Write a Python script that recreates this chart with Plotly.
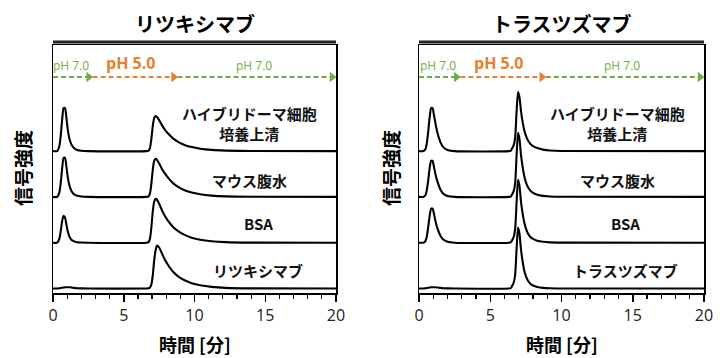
import plotly.graph_objects as go

# ---------------- data ----------------
# Rituximab panel: time grid (min) and signal of the four samples
LT = [0, 0.3, 0.45, 0.55, 0.65, 0.75, 0.85, 0.95, 1.05, 1.15, 1.3, 1.5, 1.7, 2.0, 2.5,
      6.6, 6.75, 6.85, 6.95, 7.05, 7.15, 7.25, 7.35, 7.5, 7.7, 7.9, 8.2, 8.5, 8.9, 9.3,
      9.8, 10.4, 11.2, 12.2, 14, 20]
L_HYB = [0, 0, 5, 16, 32, 43, 43, 33, 21, 13, 6.5, 2.8, 1.2, 0.4, 0,
         0, 0.5, 3, 12, 25, 33, 35, 34, 31, 26, 21.5, 16.5, 12.5, 8.8, 6.2,
         4, 2.4, 1.2, 0.5, 0.1, 0]
L_ASC = [0, 0, 4.5, 14.5, 29, 39, 39, 30, 19, 12, 6, 2.5, 1.1, 0.4, 0,
         0, 0.5, 3.3, 13, 27, 36, 38, 37, 33.5, 28, 23.5, 18, 13.5, 9.5, 6.7,
         4.3, 2.6, 1.3, 0.5, 0.1, 0]
L_BSA = [0, 0, 4, 12, 22, 27, 25, 18, 11, 6.5, 3, 1.3, 0.5, 0.2, 0,
         0, 0.6, 3.8, 15, 31, 41, 44, 43, 39, 32.5, 27, 20.5, 15.5, 11, 7.8,
         5, 3, 1.5, 0.6, 0.1, 0]
L_STD = [0, 0, 0.2, 0.5, 0.8, 1.0, 1.2, 1.3, 1.3, 1.2, 1.0, 0.6, 0.3, 0.1, 0,
         0, 0.2, 1, 4, 13, 28, 38, 43, 41, 35, 29, 22, 16.5, 11.5, 8.2,
         5.3, 3.2, 1.6, 0.6, 0.1, 0]

# Trastuzumab panel
RT = [0, 0.3, 0.45, 0.55, 0.65, 0.75, 0.85, 0.95, 1.05, 1.15, 1.3, 1.5, 1.7, 2.0, 2.5,
      6.3, 6.45, 6.55, 6.65, 6.75, 6.85, 6.95, 7.05, 7.15, 7.25, 7.4, 7.6, 7.8, 8.0,
      8.3, 8.7, 9.2, 10, 20]
R_HYB = [0, 0, 2, 8, 20, 34, 43, 43, 36, 28, 18, 9, 4, 1.2, 0,
         0, 0.5, 3, 6, 14, 40, 59, 54, 41, 31, 20, 12, 7.5, 5, 3, 1.5, 0.6, 0.1, 0]
R_ASC = [0, 0, 1.7, 7, 17, 29, 36, 36, 30, 23, 15, 7.5, 3.3, 1, 0,
         0, 0.5, 3, 6, 14, 42, 64, 58, 43, 32, 20, 11, 6.5, 4, 2.2, 1, 0.4, 0.1, 0]
R_BSA = [0, 0, 1.6, 6.5, 16, 27, 34, 34, 29, 22, 14, 7, 3.2, 1, 0,
         0, 0.5, 3, 6, 14, 41, 63, 57, 42, 31, 19.5, 10.5, 6, 3.8, 2, 0.9, 0.3, 0.1, 0]
R_STD = [0, 0, 0.2, 0.5, 0.8, 1.0, 1.2, 1.3, 1.3, 1.2, 1.0, 0.6, 0.3, 0.1, 0,
         0, 0.5, 3, 6, 14, 40, 61, 55, 40, 29, 17, 9, 5, 3, 1.5, 0.6, 0.2, 0, 0]

SAMPLE_LABELS = ["ハイブリドーマ細胞<br>培養上清", "マウス腹水", "BSA"]
PANEL_TITLES = ["リツキシマブ", "トラスツズマブ"]
PH_TIMES_L = [0, 2.8, 8.8, 20]
PH_TIMES_R = [0, 2.9, 8.9, 20]
PH_LABELS = ["pH 7.0", "pH 5.0", "pH 7.0"]
X_TICKS = [0, 5, 10, 15, 20]
X_TITLE = "時間 [分]"
Y_TITLE = "信号強度"

# ---------------- style ----------------
JP = "Noto Sans CJK JP"
GREEN = "#70AD47"
ORANGE = "#ED7D31"
BASE = 4.5
STEP = 45.8
YMAX = 248
W, H = 722, 358

fig = go.Figure()

panels = [
    ("x", "y", LT, [L_HYB, L_ASC, L_BSA, L_STD], PH_TIMES_L, PANEL_TITLES[0]),
    ("x2", "y2", RT, [R_HYB, R_ASC, R_BSA, R_STD], PH_TIMES_R, PANEL_TITLES[1]),
]


def ann(**kw):
    d = dict(showarrow=False, xanchor="center", yanchor="middle")
    d.update(kw)
    return d


annotations = []
shapes = []
for xa, ya, tgrid, series, phs, title in panels:
    for i, vals in enumerate(series):
        off = BASE + STEP * (3 - i)
        fig.add_trace(go.Scatter(x=tgrid, y=[v + off for v in vals], mode="lines",
                                 line=dict(color="black", width=2.1, shape="spline", smoothing=0.6),
                                 xaxis=xa, yaxis=ya, showlegend=False, hoverinfo="skip"))
    # pH arrows
    ya_arrow = 216
    for k in range(3):
        col = ORANGE if k == 1 else GREEN
        t0, t1 = phs[k], phs[k + 1]
        fig.add_trace(go.Scatter(x=[t0, t1 - 0.3], y=[ya_arrow, ya_arrow], mode="lines",
                                 line=dict(color=col, width=2, dash="5px,3px"),
                                 xaxis=xa, yaxis=ya, showlegend=False, hoverinfo="skip",
                                 cliponaxis=False))
        fig.add_trace(go.Scatter(x=[t1 - 0.28], y=[ya_arrow], mode="markers",
                                 marker=dict(symbol="triangle-right", size=9, color=col),
                                 xaxis=xa, yaxis=ya, showlegend=False, hoverinfo="skip",
                                 cliponaxis=False))
        mid = (t0 + t1) / 2
        if k == 1:
            annotations.append(ann(x=mid - 0.3, y=230, xref=xa, yref=ya,
                                   text="<b>" + PH_LABELS[k] + "</b>",
                                   font=dict(family="Open Sans", size=16, color=ORANGE)))
        else:
            annotations.append(ann(x=mid - (0.1 if k == 0 else 0.2), y=228, xref=xa, yref=ya,
                                   text=PH_LABELS[k],
                                   font=dict(family="Open Sans", size=12, color=GREEN)))
    # sample labels
    labels = SAMPLE_LABELS + [title]
    lab_y = [170, 113, 70, 23]
    lab_x = [13.9, 13.9, 14.5, 14.5]
    for i, lab in enumerate(labels):
        annotations.append(ann(x=lab_x[i], y=lab_y[i], xref=xa, yref=ya, text="<b>" + lab + "</b>",
                               align="center", font=dict(family=JP, size=15, color="#111")))
    # panel title and x title
    annotations.append(ann(x=10, y=1 - 23 / H, xref=xa, yref="paper", text="<b>" + title + "</b>",
                           font=dict(family=JP, size=20, color="black")))
    annotations.append(ann(x=10, y=1 - 344 / H, xref=xa, yref="paper", text="<b>" + X_TITLE + "</b>",
                           font=dict(family=JP, size=18, color="black")))
    shapes.append(dict(type="line", xref=xa, yref="paper", x0=0, x1=20,
                       y0=1 - 42 / H, y1=1 - 42 / H, line=dict(color="#222", width=3)))

for xp in (23, 391):
    annotations.append(ann(x=xp / W, y=1 - 168 / H, xref="paper", yref="paper",
                           text="<b>" + Y_TITLE + "</b>", textangle=-90,
                           font=dict(family=JP, size=19, color="black")))

xcommon = dict(range=[0, 20], tickvals=X_TICKS, ticks="outside", ticklen=7, tickwidth=1.5,
               tickcolor="black", showline=True, linecolor="black", linewidth=1.5, mirror=True,
               showgrid=False, zeroline=False, automargin=False,
               tickfont=dict(family="Open Sans", size=16, color="#222"),
               minor=dict(dtick=1, ticks="outside", ticklen=4, tickwidth=1.2, tickcolor="black"))
ycommon = dict(range=[0, YMAX], showticklabels=False, ticks="", showline=True, automargin=False,
               linecolor="black", linewidth=1.5, mirror=True, showgrid=False, zeroline=False,
               domain=[1 - 293 / H, 1 - 45 / H])

fig.update_layout(
    width=W, height=H, autosize=False, margin=dict(l=0, r=0, t=0, b=0, pad=0),
    paper_bgcolor="white", plot_bgcolor="white",
    xaxis=dict(domain=[53 / W, 336 / W], anchor="y", **xcommon),
    yaxis=dict(anchor="x", **ycommon),
    xaxis2=dict(domain=[419 / W, 704 / W], anchor="y2", **xcommon),
    yaxis2=dict(anchor="x2", **ycommon),
    annotations=annotations, shapes=shapes,
)

fig.write_html("out.html", config={"displayModeBar": False, "staticPlot": True},
               post_script="document.body.style.margin='0px';")
